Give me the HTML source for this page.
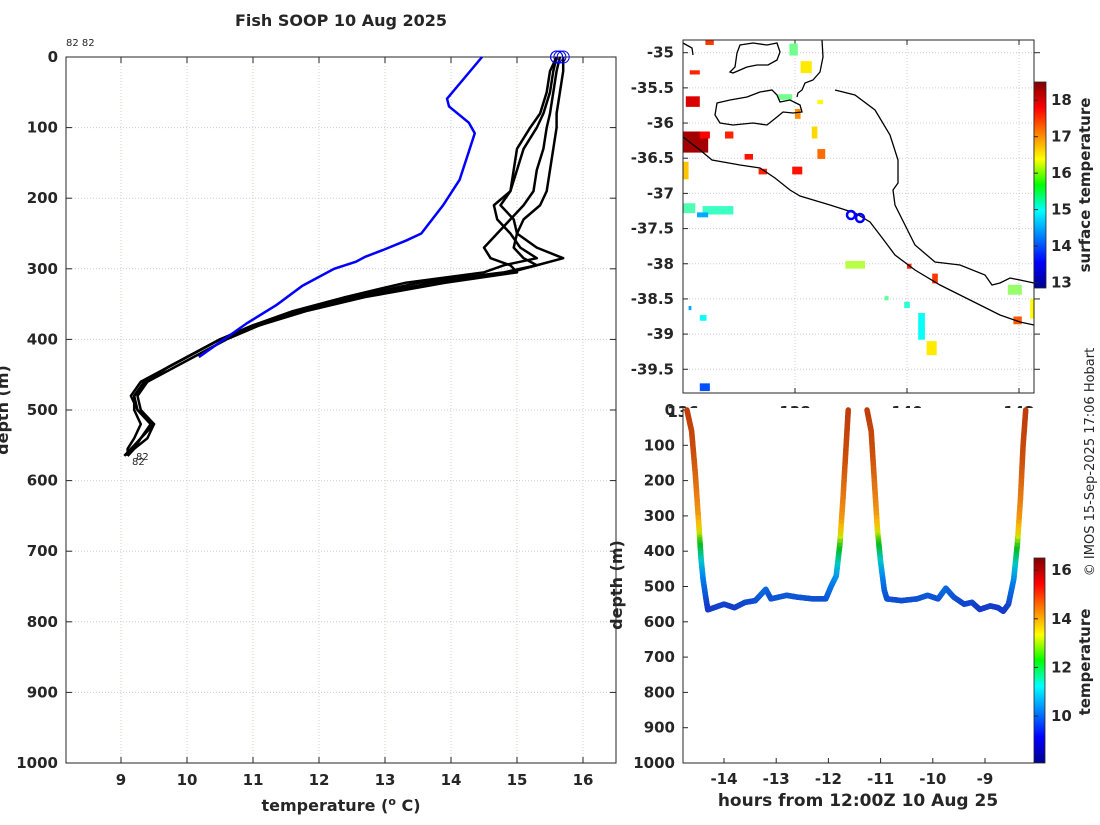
<!DOCTYPE html>
<html><head><meta charset="utf-8"><style>
body{margin:0;background:#fff;}
svg text{font-family:"DejaVu Sans","Liberation Sans",sans-serif;fill:#262626;}
.b{font-weight:bold;font-size:15px;}
</style></head><body>
<svg id="svg" width="1100" height="820" viewBox="0 0 1100 820" xmlns="http://www.w3.org/2000/svg">
<defs>
<linearGradient id="jet" x1="0" y1="1" x2="0" y2="0">
<stop offset="0" stop-color="#00008f"/><stop offset="0.125" stop-color="#0000ff"/><stop offset="0.375" stop-color="#00ffff"/><stop offset="0.5" stop-color="#00ff00" /><stop offset="0.625" stop-color="#ffff00"/><stop offset="0.875" stop-color="#ff0000"/><stop offset="1" stop-color="#800000"/>
</linearGradient>
</defs>
<rect width="1100" height="820" fill="#fff"/>
<text x="341" y="26" text-anchor="middle" font-weight="bold" font-size="16">Fish SOOP 10 Aug 2025</text>
<text x="66" y="46" font-size="10">82 82</text>
<g id="left"></g>
<g id="map"></g>
<g id="ts"></g>
<text transform="translate(1094,462) rotate(-90)" text-anchor="middle" font-size="13">© IMOS 15-Sep-2025 17:06 Hobart</text>
</svg>
<script>
// ---- left profile data ----
const blueTemp=[14.47,13.94,13.97,14.27,14.36,14.27,14.13,13.88,13.55,13.32,12.98,12.70,12.56,12.23,11.75,11.36,10.91,10.18];
const blueDepth=[0,59,70,93,108,134,174,210,250,260,273,283,290,300,324,351,377,425];
const profDepth=[0,20,50,80,100,130,160,190,210,230,250,270,285,295,305,320,340,360,380,400,420,440,460,480,500,520,540,555,565];
const prof1=[15.6,15.55,15.5,15.4,15.3,15.1,15.0,14.9,14.65,14.7,14.9,15.05,15.3,14.8,14.5,13.3,12.4,11.6,11.0,10.5,10.1,9.7,9.4,9.2,9.2,9.3,9.2,9.1,9.1];
const prof2=[15.65,15.6,15.55,15.5,15.45,15.4,15.3,15.25,15.1,14.9,14.7,14.5,14.6,14.9,15.0,13.9,12.7,11.8,11.1,10.6,10.2,9.8,9.4,9.25,9.3,9.5,9.3,9.2,9.1];
const prof3=[15.7,15.7,15.65,15.6,15.6,15.55,15.5,15.45,15.35,15.1,15.0,14.95,15.1,15.3,14.8,13.5,12.5,11.7,11.0,10.5,10.1,9.7,9.3,9.15,9.25,9.45,9.3,9.15,9.05];
const prof4=[15.6,15.5,15.45,15.35,15.2,15.0,14.95,14.9,14.75,14.95,15.0,15.3,15.7,15.3,14.9,13.7,12.6,11.7,11.1,10.5,10.1,9.7,9.35,9.2,9.25,9.5,9.4,9.2,9.1];
const tempTicks=[9,10,11,12,13,14,15,16];
const depthTicks=[0,100,200,300,400,500,600,700,800,900,1000];
// ---- time series data ----
const tsHours=[-14.71,-14.62,-14.55,-14.48,-14.44,-14.40,-14.35,-14.31,-14.0,-13.8,-13.6,-13.4,-13.2,-13.1,-12.8,-12.6,-12.3,-12.05,-11.95,-11.85,-11.78,-11.72,-11.66,-11.62,
 null,-11.26,-11.18,-11.12,-11.06,-11.0,-10.93,-10.88,-10.6,-10.3,-10.1,-9.9,-9.75,-9.6,-9.4,-9.25,-9.1,-8.9,-8.75,-8.65,-8.55,-8.45,-8.38,-8.32,-8.27,-8.22];
const tsDepth=[0,60,180,330,420,480,530,566,550,560,545,540,508,535,525,530,535,535,500,470,380,250,100,0,
 null,0,60,200,340,430,510,535,540,535,525,535,505,530,550,545,565,555,560,570,550,480,380,250,100,0];
// temperature vs depth used to colour the trace
const colDepth=[0,100,200,300,340,370,430,480,560];
const colTemp=[16.0,15.6,15.0,14.3,13.5,12.4,11.0,10.2,9.5];
const latTicks=[-35,-35.5,-36,-36.5,-37,-37.5,-38,-38.5,-39,-39.5];
const lonTicks=[136,138,140,142];
const sstTicks=[13,14,15,16,17,18];
const tsHourTicks=[-14,-13,-12,-11,-10,-9];
const cTicks=[10,12,14,16];
// SST patches: lon, lat, value
const sstLon=[136.0,136.05,136.12,136.4,136.0,136.75,136.3,137.1,138.0,138.3,138.4,137.95,137.35,136.0,136.35,136.25,137.9,138.1,137.7,138.4,138.9,140.0,140.45,139.6,139.95,140.2,140.35,141.8,141.9,142.2,136.3,136.3,136.1];
const sstLat=[-36.12,-35.62,-35.25,-34.82,-36.55,-36.12,-36.12,-36.44,-35.8,-36.05,-36.37,-36.62,-36.65,-37.14,-37.18,-37.27,-34.87,-35.12,-35.59,-35.67,-37.96,-38.0,-38.14,-38.46,-38.54,-38.7,-39.1,-38.3,-38.75,-38.5,-39.7,-38.73,-38.6];
const sstVal=[18.3,18.0,17.6,17.5,16.7,17.6,17.8,17.7,17.0,16.6,17.2,17.7,17.6,15.4,15.3,14.5,15.6,16.5,15.6,16.4,16.0,17.6,17.5,15.5,15.2,15.0,16.5,15.8,17.3,16.4,14.0,15.0,14.5];
const sstW=[0.45,0.25,0.18,0.15,0.1,0.15,0.18,0.15,0.1,0.1,0.14,0.18,0.15,0.22,0.55,0.2,0.15,0.2,0.25,0.1,0.35,0.08,0.1,0.07,0.1,0.12,0.18,0.25,0.15,0.07,0.18,0.12,0.05];
const sstH=[0.3,0.15,0.06,0.07,0.25,0.1,0.1,0.08,0.14,0.17,0.14,0.11,0.08,0.14,0.12,0.07,0.17,0.17,0.08,0.06,0.11,0.07,0.14,0.06,0.09,0.38,0.2,0.14,0.11,0.28,0.11,0.08,0.06];

const NS="http://www.w3.org/2000/svg";
function mk(parent,tag,attrs,text){const e=document.createElementNS(NS,tag);for(const k in attrs)e.setAttribute(k,attrs[k]);if(text!==undefined)e.textContent=text;parent.appendChild(e);return e;}
function jet(v,lo,hi){let t=Math.max(0,Math.min(1,(v-lo)/(hi-lo)));const c=x=>Math.round(255*Math.max(0,Math.min(1,x)));return `rgb(${c(1.5-Math.abs(4*t-3))},${c(1.5-Math.abs(4*t-2))},${c(1.5-Math.abs(4*t-1))})`;}
// muted colour ramp observed on the trace
const rampT=[9.5,10.3,11,12,13,13.8,14.6,15.4,16];
const rampC=[[20,60,200],[0,140,240],[0,200,200],[0,190,30],[200,230,0],[250,190,0],[235,130,20],[205,80,10],[190,60,10]];
function ramp(v){if(v<=rampT[0])return `rgb(${rampC[0]})`;for(let j=1;j<rampT.length;j++){if(v<=rampT[j]){const f=(v-rampT[j-1])/(rampT[j]-rampT[j-1]);const c=rampC[j-1].map((x,k)=>Math.round(x+f*(rampC[j][k]-x)));return `rgb(${c})`;}}return `rgb(${rampC[rampC.length-1]})`;}
const GRID="#c8cde0";

// ===== left plot =====
const L=document.getElementById('left');
const lx=t=>121+(t-9)*66, ly=d=>57+d*0.706;
for(const t of tempTicks){
 const g=mk(L,'line',{x1:lx(t),x2:lx(t),y1:57,y2:763,stroke:(t%2? "#dcc8b8":GRID),'stroke-dasharray':'1,2','stroke-width':1});
 
 mk(L,'line',{x1:lx(t),x2:lx(t),y1:57,y2:63,stroke:'#262626'});mk(L,'line',{x1:lx(t),x2:lx(t),y1:763,y2:757,stroke:'#262626'});
 const tx=mk(L,'text',{x:lx(t),y:785,'text-anchor':'middle',class:'b'},String(t));
 
}
for(const d of depthTicks){
 if(d>0&&d<1000){const g=mk(L,'line',{x1:66,x2:616,y1:ly(d),y2:ly(d),stroke:GRID,'stroke-dasharray':'1,2'});
 }
 mk(L,'line',{x1:66,x2:72,y1:ly(d),y2:ly(d),stroke:'#262626'});mk(L,'line',{x1:616,x2:610,y1:ly(d),y2:ly(d),stroke:'#262626'});
 const tx=mk(L,'text',{x:58,y:ly(d)+5,'text-anchor':'end',class:'b'},String(d));
 
}
const lf=mk(L,'rect',{x:66,y:57,width:550,height:706,fill:'none',stroke:'#262626'});

const xt=mk(L,'text',{x:341,y:811,'text-anchor':'middle','font-weight':'bold','font-size':16});

xt.innerHTML='temperature (<tspan dy="-6" font-size="11">o</tspan><tspan dy="6"> C)</tspan>';
const yt=mk(L,'text',{transform:'translate(8,410) rotate(-90)','text-anchor':'middle','font-weight':'bold','font-size':16},'depth (m)');

const profs=[prof1,prof2,prof3,prof4];
profs.forEach((p,i)=>{
 const pl=mk(L,'polyline',{points:p.map((t,j)=>lx(t)+','+ly(profDepth[j])).join(' '),fill:'none',stroke:'#000','stroke-width':2.5,'stroke-linejoin':'round'});
 
 const c=mk(L,'circle',{cx:lx(p[0]),cy:ly(0),r:6,fill:'none',stroke:'#00f','stroke-width':1});
 
});
const bl=mk(L,'polyline',{points:blueTemp.map((t,j)=>lx(t)+','+ly(blueDepth[j])).join(' '),fill:'none',stroke:'#0000ff','stroke-width':2.5});

const e1=mk(L,'text',{x:136,y:460,'font-size':10},'82');
const e2=mk(L,'text',{x:132,y:465,'font-size':10},'82');

// ===== map =====
const M=document.getElementById('map');
const mx=l=>683+(l-136)*56, my=l=>52.7+(-35-l)*70.35;
mk(M,'rect',{x:683,y:40,width:351,height:353,fill:'#fff'});
for(const l of lonTicks){const g=mk(M,'line',{x1:mx(l),x2:mx(l),y1:40,y2:393,stroke:GRID,'stroke-dasharray':'1,2'});
 mk(M,'line',{x1:mx(l),x2:mx(l),y1:40,y2:45,stroke:'#262626'});mk(M,'line',{x1:mx(l),x2:mx(l),y1:393,y2:388,stroke:'#262626'});
 const tx=mk(M,'text',{x:mx(l),y:417,'text-anchor':'middle',class:'b'},String(l));}
for(const l of latTicks){const g=mk(M,'line',{x1:683,x2:1034,y1:my(l),y2:my(l),stroke:GRID,'stroke-dasharray':'1,2'});
 mk(M,'line',{x1:683,x2:688,y1:my(l),y2:my(l),stroke:'#262626'});mk(M,'line',{x1:1034,x2:1040,y1:my(l),y2:my(l),stroke:'#262626'});
 const tx=mk(M,'text',{x:674,y:my(l)+5,'text-anchor':'end',class:'b'},String(l));}
sstLon.forEach((lo,i)=>{const r=mk(M,'rect',{x:mx(lo),y:my(sstLat[i]),width:sstW[i]*56,height:sstH[i]*70.35,fill:jet(sstVal[i],12.85,18.5)});
 });
const coast=[
 'M683,137 L700,150 L712,160 L740,165 L760,168 L775,178 L790,190 L800,196 L830,205 L855,213 L870,222 L880,235 L895,255 L915,270 L940,285 L970,300 L1000,315 L1020,322 L1034,325',
 'M835,90 L855,95 L875,110 L890,135 L898,160 L898,183 L893,190 L895,205 L905,225 L915,245 L935,262 L960,265 L985,275 L992,285 L1000,283 L1010,278 L1020,280 L1034,283',
 'M717,103 L730,100 L747,97 L760,92 L772,90 L777,95 L780,102 L790,100 L800,105 L802,112 L793,113 L783,112 L777,117 L767,125 L753,123 L733,125 L720,123 L715,115 Z',
 'M733,73 L730,72 L735,67 L737,53 L740,45 L753,43 L767,45 L777,43 L780,52 L777,60 L768,65 L757,65 L747,67 Z',
 'M822,40 L823,57 L820,72 L813,80 L805,83 L802,90 L798,93 L797,97',
 'M683,43 L692,48 L693,55'];
coast.forEach(d=>{const p=mk(M,'path',{d:d,fill:'none',stroke:'#000','stroke-width':1.3});});
const sp=mk(M,'g',{});
mk(sp,'circle',{cx:851,cy:215,r:4,fill:'none',stroke:'#00f','stroke-width':2.5});mk(sp,'circle',{cx:860,cy:218,r:4,fill:'none',stroke:'#00f','stroke-width':2.5});
const mf=mk(M,'rect',{x:683,y:40,width:351,height:353,fill:'none',stroke:'#262626'});
const cb1=mk(M,'rect',{x:1034,y:82,width:12,height:206,fill:'url(#jet)',stroke:'#262626','stroke-width':0.8});
const cby=v=>288-(v-12.85)*36.46;
for(const v of sstTicks){mk(M,'line',{x1:1034,x2:1038,y1:cby(v),y2:cby(v),stroke:'#262626'});
 const tx=mk(M,'text',{x:1051,y:cby(v)+5,class:'b'},String(v));}
const st=mk(M,'text',{transform:'translate(1090,185) rotate(-90)','text-anchor':'middle','font-weight':'bold','font-size':15},'surface temperature');


// ===== time series =====
const T=document.getElementById('ts');
const tx_=h=>724+(h+14)*52.2, ty_=d=>410+d*0.353;
mk(T,'rect',{x:683,y:408,width:351,height:356,fill:'#fff'});
for(const h of tsHourTicks){mk(T,'line',{x1:tx_(h),x2:tx_(h),y1:763,y2:758,stroke:'#262626'});
 const t=mk(T,'text',{x:tx_(h),y:784,'text-anchor':'middle',class:'b'},String(h));}
for(const d of depthTicks){mk(T,'line',{x1:683,x2:688,y1:ty_(d),y2:ty_(d),stroke:'#262626'});
 const t=mk(T,'text',{x:675,y:ty_(d)+5,'text-anchor':'end',class:'b'},String(d));}
function tempAt(d){for(let j=1;j<colDepth.length;j++){if(d<=colDepth[j]){const f=(d-colDepth[j-1])/(colDepth[j]-colDepth[j-1]);return colTemp[j-1]+f*(colTemp[j]-colTemp[j-1]);}}return colTemp[colTemp.length-1];}
const tr=mk(T,'g',{});
for(let i=1;i<tsHours.length;i++){
 if(tsHours[i]===null||tsHours[i-1]===null)continue;
 const n=12;
 for(let k=0;k<n;k++){
  const a=k/n,b=(k+1)/n;
  const h0=tsHours[i-1]+(tsHours[i]-tsHours[i-1])*a,h1=tsHours[i-1]+(tsHours[i]-tsHours[i-1])*b;
  const d0=tsDepth[i-1]+(tsDepth[i]-tsDepth[i-1])*a,d1=tsDepth[i-1]+(tsDepth[i]-tsDepth[i-1])*b;
  mk(tr,'line',{x1:tx_(h0),y1:ty_(d0),x2:tx_(h1),y2:ty_(d1),stroke:ramp(tempAt((d0+d1)/2)),'stroke-width':5.5,'stroke-linecap':'round'});
 }
}
const tf=mk(T,'path',{d:'M683,408 L683,763 L1034,763',fill:'none',stroke:'#262626'});
const cb2=mk(T,'rect',{x:1034,y:558,width:11,height:205,fill:'url(#jet)',stroke:'#262626','stroke-width':0.8});
const cy2=v=>763-(v-8.07)*24.32;
for(const v of cTicks){mk(T,'line',{x1:1034,x2:1038,y1:cy2(v),y2:cy2(v),stroke:'#262626'});
 const t=mk(T,'text',{x:1051,y:cy2(v)+5,class:'b'},String(v));}
const ct=mk(T,'text',{transform:'translate(1090,662) rotate(-90)','text-anchor':'middle','font-weight':'bold','font-size':15},'temperature');

const hx=mk(T,'text',{x:858,y:806,'text-anchor':'middle','font-weight':'bold','font-size':17},'hours from 12:00Z 10 Aug 25');

const dy=mk(T,'text',{transform:'translate(622,585) rotate(-90)','text-anchor':'middle','font-weight':'bold','font-size':16},'depth (m)');

</script>
</body></html>
